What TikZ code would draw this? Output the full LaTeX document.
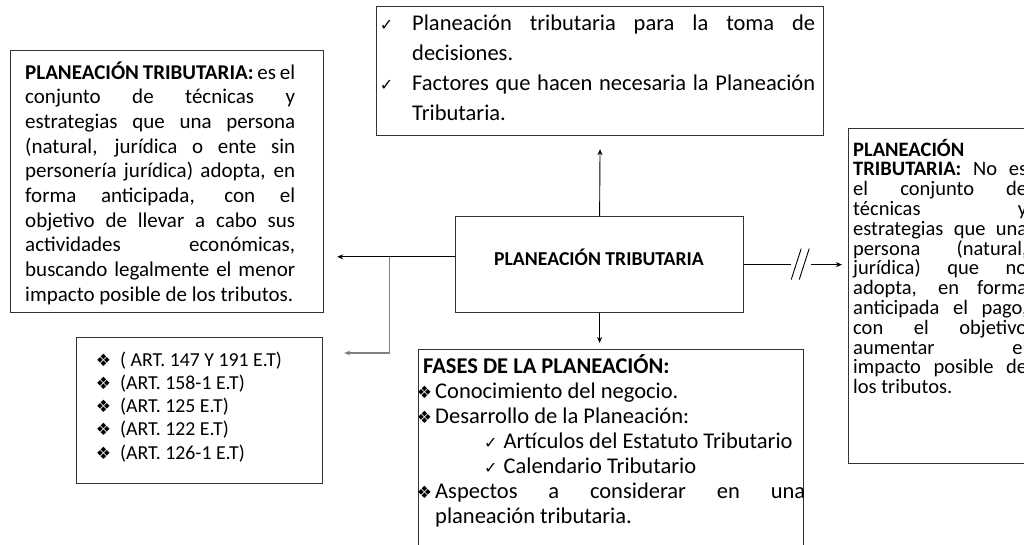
\documentclass[tikz,border=0pt]{standalone}
\usepackage{fontspec}
\setmainfont{Carlito}
\newfontfamily\symfont{DejaVu Sans}
\usetikzlibrary{arrows.meta,calc}
\lineskiplimit=-30pt
\newcommand\chk{{\symfont\fontsize{16}{16}\selectfont ✓}}
\newcommand\dia{{\symfont\fontsize{17}{17}\selectfont ❖}}
\newcommand\fs[2]{\fontsize{#1}{#2}\selectfont}

\begin{document}
\begin{tikzpicture}[x=1pt,y=-1pt,
  box/.style={draw=black!80,line width=1.2pt,inner sep=0pt,anchor=north west},
  txt/.style={inner sep=0pt,anchor=base west,align=justify},
  link/.style={line width=0.9pt,-{Stealth[length=6pt,width=5pt]}}]
\path[use as bounding box] (0,0) rectangle (1024,544);
\clip (0,0) rectangle (1024,544);

% boxes
\node[box,minimum width=313pt,minimum height=262pt] (defn) at (10,50) {};
\node[box,minimum width=447pt,minimum height=129pt] (temas) at (376,6) {};
\node[box,minimum width=288pt,minimum height=96pt] (plan) at (455,216) {};
\node[box,minimum width=246pt,minimum height=146pt] (arts) at (76,337) {};
\node[box,minimum width=385pt,minimum height=215pt] (fases) at (418,349) {};
\node[box,minimum width=190pt,minimum height=335pt] (noes) at (848,128) {};

% texts
\node[font=\fs{19.7}{24}\bfseries,inner sep=0pt,anchor=base] (plantxt) at (599,265) {PLANEACIÓN TRIBUTARIA};

\node[txt,text width=270pt,font=\fs{21}{24.7}] (defntxt) at (25,79)
{\textbf{PLANEACIÓN TRIBUTARIA:} es el\linebreak conjunto de técnicas y\linebreak
estrategias que una persona\linebreak (natural, jurídica o ente sin\linebreak
personería jurídica) adopta, en\linebreak forma anticipada, con el\linebreak
objetivo de llevar a cabo sus\linebreak actividades económicas,\linebreak
buscando legalmente el menor\linebreak impacto posible de los tributos.};

\node[txt,text width=403pt,font=\fs{22.5}{30}] (temastxt) at (412,30)
{\llap{\chk\hspace{19pt}}Planeación tributaria para la toma de\linebreak decisiones.\\
\llap{\chk\hspace{19pt}}Factores que hacen necesaria la Planeación\linebreak Tributaria.};

\foreach \t [count=\i from 0] in {{( ART. 147 Y 191 E.T)},{(ART. 158-1 E.T)},{(ART. 125 E.T)},{(ART. 122 E.T)},{(ART. 126-1 E.T)}}
  \node[txt,font=\fs{19.8}{23}] (art\i) at (120,366+23.3*\i) {\llap{\dia\hspace{9pt}}\t};

\node[txt,text width=370pt,font=\fs{22.5}{25}] (fasestxt) at (435,373)
{\hspace*{-12pt}\textbf{FASES DE LA PLANEACIÓN:}\\
\llap{\dia\hspace{3pt}}Conocimiento del negocio.\\
\llap{\dia\hspace{3pt}}Desarrollo de la Planeación:\\
\hspace*{49pt}\chk\hspace{6pt}Artículos del Estatuto Tributario\\
\hspace*{49pt}\chk\hspace{6pt}Calendario Tributario\\
\llap{\dia\hspace{3pt}}Aspectos a considerar en una\linebreak planeación tributaria.};

\node[txt,text width=174pt,font=\fs{20.5}{19.8}] (noestxt) at (853,156)
{\textbf{PLANEACIÓN}\newline \textbf{TRIBUTARIA:} No es\linebreak el conjunto de\linebreak
técnicas y\linebreak estrategias que una\linebreak persona (natural,\linebreak
jurídica) que no\linebreak adopta, en forma\linebreak anticipada el pago,\linebreak
con el objetivo\linebreak aumentar el\linebreak impacto posible de\linebreak los tributos.};

% connectors
\draw[link,shorten >=13pt] (plan.north) -- (temas.south);
\draw[link,shorten >=6pt] (plan.south) -- (plan.south |- fases.north);
\draw[link,shorten >=13pt] (plan.west |- plantxt) -- (defn.east |- plantxt);
\coordinate (fork) at ($(plan.west |- plantxt)!0.5!(defn.east |- plantxt)$);
\coordinate (artsin) at ($(arts.north east)+(0,16)$);
\draw[link,black!50,line width=1.3pt,shorten >=21pt] (fork) |- (artsin);
\draw[line width=0.9pt] (plan.east) -- ++(47,0) coordinate (cut);
\draw[line width=0.9pt] (cut) ++(0,15) -- ++(10,-31) (cut) ++(8,15) -- ++(10,-31);
\draw[link,shorten >=6pt] ($(cut)+(20,0)$) -- (cut -| noes.west);
\end{tikzpicture}
\end{document}
